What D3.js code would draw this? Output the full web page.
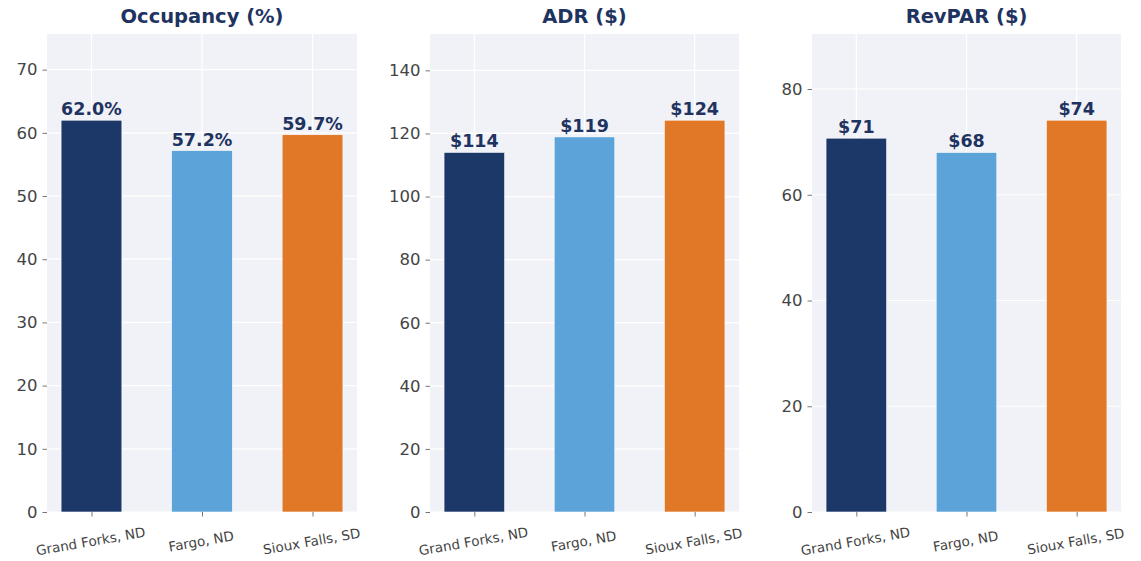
<!DOCTYPE html>
<html>
<head>
<meta charset="utf-8">
<script src="https://cdn.jsdelivr.net/npm/d3@7"></script>
<style>
  html, body { margin: 0; padding: 0; background: #ffffff; }
  svg { display: block; font-family: "DejaVu Sans", sans-serif; }
</style>
</head>
<body>
<svg id="chart" width="1141" height="561"></svg>
<script>
// Market names shared by all three panels
const markets = ["Grand Forks, ND", "Fargo, ND", "Sioux Falls, SD"];
const barColors = ["#1c3868", "#5ba3d8", "#e07828"];

// KPI values per market
const occupancy = [62.0, 57.2, 59.7];
const adr = [114.0, 118.9, 124.2];
const revpar = [70.7, 68.0, 74.1];

// Panel titles and y tick values
const titles = ["Occupancy (%)", "ADR ($)", "RevPAR ($)"];
const occTicks = [0, 10, 20, 30, 40, 50, 60, 70];
const adrTicks = [0, 20, 40, 60, 80, 100, 120, 140];
const revTicks = [0, 20, 40, 60, 80];

const panels = [
  { title: titles[0], values: occupancy, ticks: occTicks, fmt: v => v.toFixed(1) + "%", x0: 47, x1: 357 },
  { title: titles[1], values: adr, ticks: adrTicks, fmt: v => "$" + Math.round(v), x0: 430, x1: 739 },
  { title: titles[2], values: revpar, ticks: revTicks, fmt: v => "$" + Math.round(v), x0: 812, x1: 1121 }
];

const svg = d3.select("#chart");
const plotTop = 34, plotBottom = 512;
const navy = "#1f3361";

panels.forEach(p => {
  const g = svg.append("g");
  const ymax = d3.max(p.values) * 1.22;
  const y = d3.scaleLinear().domain([0, ymax]).range([plotBottom, plotTop]);
  const x = d3.scaleLinear().domain([-0.4025, 2.4025]).range([p.x0, p.x1]);
  const bw = x(0.55) - x(0);

  // plot background
  g.append("rect")
    .attr("x", p.x0).attr("y", plotTop)
    .attr("width", p.x1 - p.x0).attr("height", plotBottom - plotTop)
    .attr("fill", "#f1f2f7");

  // horizontal grid
  g.selectAll("line.hg").data(p.ticks).join("line")
    .attr("x1", p.x0).attr("x2", p.x1)
    .attr("y1", d => y(d)).attr("y2", d => y(d))
    .attr("stroke", "#ffffff").attr("stroke-width", 1.2);

  // vertical grid at categories
  g.selectAll("line.vg").data(markets).join("line")
    .attr("x1", (d, i) => x(i)).attr("x2", (d, i) => x(i))
    .attr("y1", plotTop).attr("y2", plotBottom)
    .attr("stroke", "#ffffff").attr("stroke-width", 1.2);

  // bars
  g.selectAll("rect.bar").data(p.values).join("rect")
    .attr("x", (d, i) => x(i) - bw / 2)
    .attr("y", d => y(d))
    .attr("width", bw)
    .attr("height", d => plotBottom - y(d))
    .attr("fill", (d, i) => barColors[i])
    .attr("stroke", "#ffffff").attr("stroke-width", 0.6);

  // value labels
  g.selectAll("text.val").data(p.values).join("text")
    .attr("x", (d, i) => x(i))
    .attr("y", d => y(d) - 5)
    .attr("text-anchor", "middle")
    .attr("font-size", "17.5px").attr("font-weight", "bold")
    .attr("fill", navy)
    .text(d => p.fmt(d));

  // y axis
  const yAxis = d3.axisLeft(y).tickValues(p.ticks).tickSize(4.5).tickPadding(5);
  const ya = g.append("g").attr("transform", `translate(${p.x0},0)`).call(yAxis);
  ya.select(".domain").remove();
  ya.selectAll(".tick line").attr("stroke", "#666").attr("stroke-width", 0.9);
  ya.selectAll(".tick text").attr("font-size", "16.5px").attr("fill", "#444")
    .attr("font-family", "DejaVu Sans, sans-serif");

  // x axis
  const xa = g.append("g").attr("transform", `translate(0,${plotBottom})`)
    .call(d3.axisBottom(x).tickValues([0, 1, 2]).tickSize(4.5).tickFormat(""));
  xa.select(".domain").remove();
  xa.selectAll(".tick line").attr("stroke", "#666").attr("stroke-width", 0.9);

  g.selectAll("text.xl").data(markets).join("text")
    .attr("transform", (d, i) => `translate(${x(i)},${plotBottom + 34}) rotate(-10)`)
    .attr("text-anchor", "middle")
    .attr("font-size", "13.5px")
    .attr("fill", "#444")
    .text(d => d);

  // title
  g.append("text")
    .attr("x", (p.x0 + p.x1) / 2)
    .attr("y", 23)
    .attr("text-anchor", "middle")
    .attr("font-size", "19.5px").attr("font-weight", "bold")
    .attr("fill", navy)
    .text(p.title);
});
</script>
</body>
</html>
